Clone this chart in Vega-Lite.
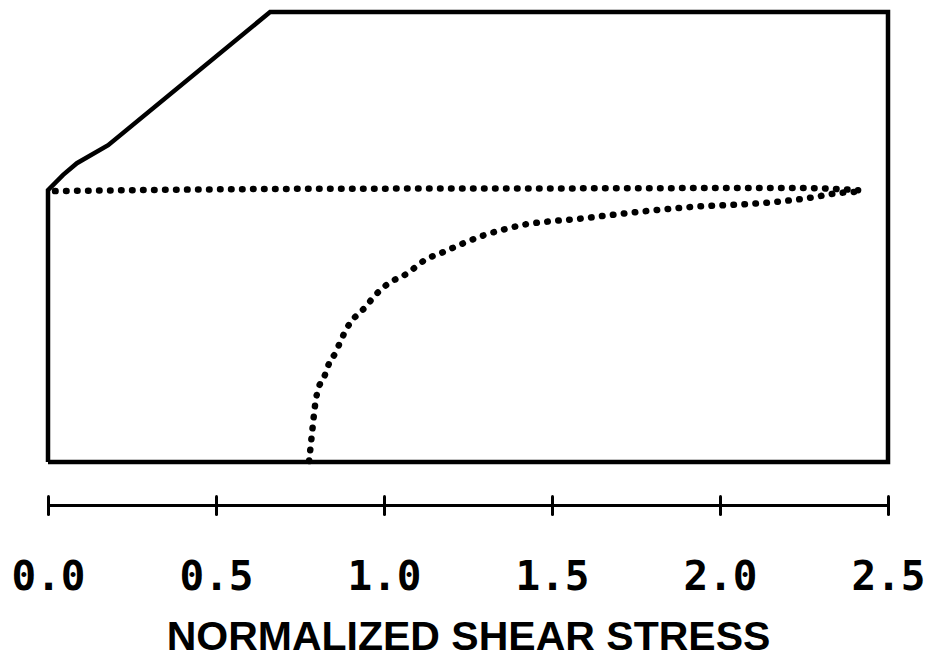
{
  "$schema": "https://vega.github.io/schema/vega-lite/v6.json",
  "autosize": {"type": "none"},
  "padding": {"left": 48, "top": 12, "right": 42, "bottom": 207},
  "width": 840,
  "height": 450,
  "background": "white",
  "config": {"view": {"stroke": null}, "axis": {"grid": false}},
  "datasets": {
    "outline": [
      {"i": 1, "x": 0, "y": 0},
      {"i": 2, "x": 0, "y": 0.604},
      {"i": 3, "x": 0.045, "y": 0.638},
      {"i": 4, "x": 0.086, "y": 0.664},
      {"i": 5, "x": 0.179, "y": 0.704},
      {"i": 6, "x": 0.661, "y": 1.0},
      {"i": 7, "x": 2.5, "y": 1.0},
      {"i": 8, "x": 2.5, "y": 0},
      {"i": 9, "x": 0, "y": 0}
    ],
    "curves": [
      {"s": "flat", "i": 1, "x": 0.021, "y": 0.602},
      {"s": "flat", "i": 2, "x": 0.75, "y": 0.607},
      {"s": "flat", "i": 3, "x": 1.524, "y": 0.608},
      {"s": "flat", "i": 4, "x": 2.238, "y": 0.609},
      {"s": "flat", "i": 5, "x": 2.411, "y": 0.604},
      {"s": "rise", "i": 1, "x": 0.777, "y": 0.002},
      {"s": "rise", "i": 2, "x": 0.780, "y": 0.023},
      {"s": "rise", "i": 3, "x": 0.787, "y": 0.073},
      {"s": "rise", "i": 4, "x": 0.795, "y": 0.127},
      {"s": "rise", "i": 5, "x": 0.801, "y": 0.153},
      {"s": "rise", "i": 6, "x": 0.824, "y": 0.193},
      {"s": "rise", "i": 7, "x": 0.837, "y": 0.220},
      {"s": "rise", "i": 8, "x": 0.856, "y": 0.243},
      {"s": "rise", "i": 9, "x": 0.871, "y": 0.269},
      {"s": "rise", "i": 10, "x": 0.899, "y": 0.309},
      {"s": "rise", "i": 11, "x": 0.923, "y": 0.329},
      {"s": "rise", "i": 12, "x": 0.946, "y": 0.345},
      {"s": "rise", "i": 13, "x": 0.966, "y": 0.364},
      {"s": "rise", "i": 14, "x": 1.010, "y": 0.395},
      {"s": "rise", "i": 15, "x": 1.069, "y": 0.419},
      {"s": "rise", "i": 16, "x": 1.122, "y": 0.449},
      {"s": "rise", "i": 17, "x": 1.175, "y": 0.466},
      {"s": "rise", "i": 18, "x": 1.236, "y": 0.486},
      {"s": "rise", "i": 19, "x": 1.298, "y": 0.504},
      {"s": "rise", "i": 20, "x": 1.358, "y": 0.517},
      {"s": "rise", "i": 21, "x": 1.420, "y": 0.528},
      {"s": "rise", "i": 22, "x": 1.484, "y": 0.534},
      {"s": "rise", "i": 23, "x": 1.574, "y": 0.540},
      {"s": "rise", "i": 24, "x": 1.722, "y": 0.553},
      {"s": "rise", "i": 25, "x": 1.920, "y": 0.567},
      {"s": "rise", "i": 26, "x": 2.119, "y": 0.575},
      {"s": "rise", "i": 27, "x": 2.258, "y": 0.586},
      {"s": "rise", "i": 28, "x": 2.357, "y": 0.598},
      {"s": "rise", "i": 29, "x": 2.422, "y": 0.601}
    ]
  },
  "layer": [
    {
      "data": {"name": "outline"},
      "mark": {"type": "line", "stroke": "black", "strokeWidth": 4.5, "strokeJoin": "miter"},
      "encoding": {
        "x": {
          "field": "x", "type": "quantitative",
          "scale": {"domain": [0, 2.5], "nice": false, "zero": false},
          "axis": {
            "orient": "bottom", "offset": 43, "values": [0, 0.5, 1, 1.5, 2, 2.5], "grid": false,
            "format": ".1f", "domainColor": "black", "domainWidth": 3,
            "tickColor": "black", "tickWidth": 3, "tickSize": 9, "tickCap": "round",
            "labelFont": "DejaVu Sans Mono", "labelFontWeight": "bold", "labelFontSize": 41,
            "labelColor": "black", "labelPadding": 43, "labelFlush": false, "labelOverlap": false,
            "title": "NORMALIZED SHEAR STRESS", "titleFont": "Liberation Sans",
            "titleFontWeight": "bold", "titleFontSize": 41, "titleColor": "black", "titlePadding": 20
          }
        },
        "y": {"field": "y", "type": "quantitative", "scale": {"domain": [0, 1], "nice": false}, "axis": null},
        "order": {"field": "i"}
      }
    },
    {
      "data": {"name": "outline"},
      "mark": {"type": "point", "opacity": 0},
      "encoding": {
        "x": {
          "field": "x", "type": "quantitative",
          "scale": {"domain": [0, 2.5], "nice": false, "zero": false},
          "axis": {
            "orient": "bottom", "offset": 43, "values": [0, 0.5, 1, 1.5, 2, 2.5], "grid": false,
            "domain": false, "labels": false, "title": null,
            "tickColor": "black", "tickWidth": 3, "tickSize": -9, "tickCap": "round"
          }
        },
        "y": {"field": "y", "type": "quantitative", "scale": {"domain": [0, 1], "nice": false}, "axis": null}
      }
    },
    {
      "data": {"name": "curves"},
      "mark": {"type": "line", "stroke": "black", "strokeWidth": 6.5, "strokeCap": "round", "strokeDash": [0.5, 10.5], "interpolate": "monotone"},
      "encoding": {
        "x": {"field": "x", "type": "quantitative", "scale": {"domain": [0, 2.5], "nice": false, "zero": false}, "axis": null},
        "y": {"field": "y", "type": "quantitative", "scale": {"domain": [0, 1], "nice": false}, "axis": null},
        "detail": {"field": "s"},
        "order": {"field": "i"}
      }
    }
  ],
  "resolve": {"axis": {"x": "independent"}}
}
